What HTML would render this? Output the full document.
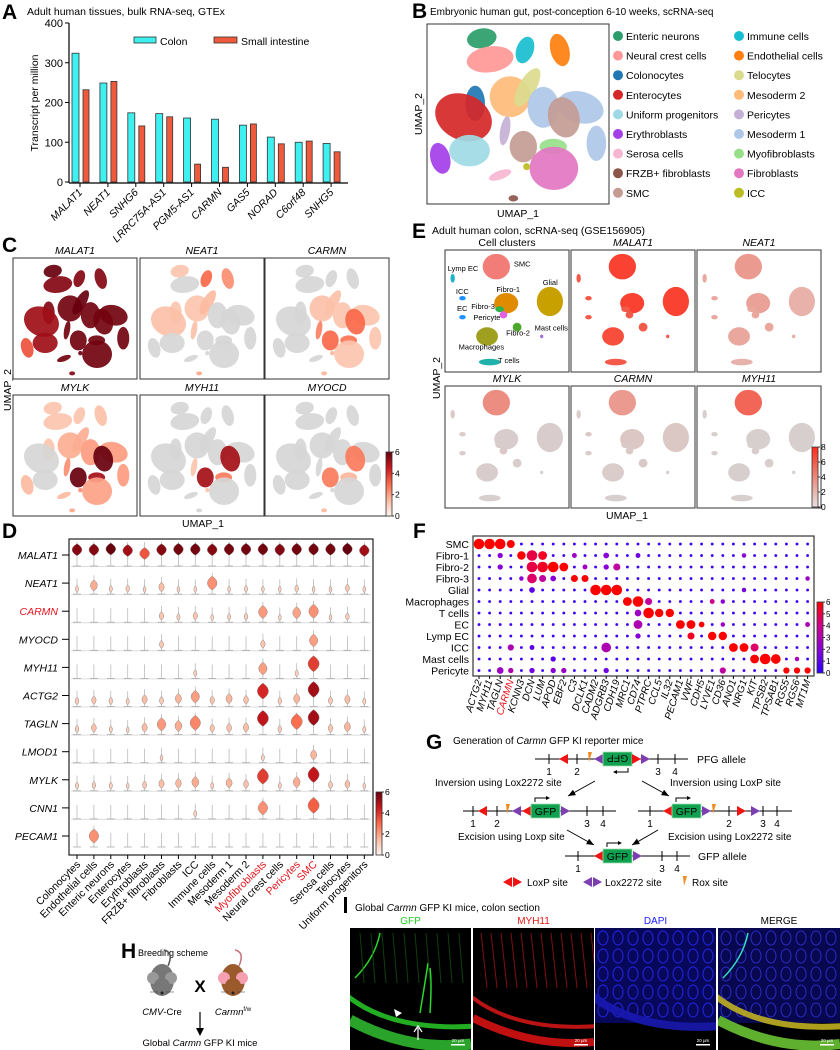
<!DOCTYPE html>
<html><head><meta charset="utf-8">
<style>
html,body{margin:0;padding:0;background:#fff;}
svg{display:block;font-family:"Liberation Sans",Arial,sans-serif;}
</style></head>
<body>
<svg id="fig" width="840" height="1050" viewBox="0 0 840 1050" xmlns="http://www.w3.org/2000/svg">
<rect x="0" y="0" width="840" height="1050" fill="#fff"/>
</svg>
<script>
// ---------- Panel A data ----------
const genesA = ['MALAT1','NEAT1','SNHG6','LRRC75A-AS1','PGM5-AS1','CARMN','GAS5','NORAD','C6orf48','SNHG5'];
const colonTPM = [324,249,174,172,161,158,143,113,100,97];
const smallIntTPM = [232,253,141,164,45,37,146,96,103,76];
const ticksA = [0,100,200,300,400];
// ---------- Panel D data ----------
const cellTypesD = ['Colonocytes','Endothelial cells','Enteric neurons','Enterocytes','Erythroblasts','FRZB+ fibroblasts','Fibroblasts','ICC','Immune cells','Mesoderm 1','Mesoderm 2','Myofibroblasts','Neural crest cells','Pericytes','SMC','Serosa cells','Telocytes','Uniform progenitors'];
const genesD = ['MALAT1','NEAT1','CARMN','MYOCD','MYH11','ACTG2','TAGLN','LMOD1','MYLK','CNN1','PECAM1'];
const exprMALAT1 = [5.5,5.5,6,5,3,5.5,5.8,5.8,5.5,5.8,5.8,5.8,5.5,5.8,5.8,5.8,6,5];
const exprNEAT1 = [0.3,1.2,0.3,0.4,0.2,0.8,0.2,0.2,1.8,0.2,0.3,0.2,0.2,0.4,0.2,0.2,0.5,0.2];
const exprCARMN = [0,0.1,0,0,0,0.6,0.3,0.6,0.2,0.3,0.4,1.6,0.2,1.4,1.8,0.2,0.4,0.1];
const exprMYOCD = [0,0,0,0,0,0.5,0,0,0,0.1,0,0.6,0,0,1.5,0,0,0];
const exprMYH11 = [0,0,0,0,0,0,0,0.3,0,0,0,1.5,0,0.3,3.5,0,0,0];
const exprACTG2 = [0.4,0.6,0.4,0.3,0.8,0.5,1.0,1.5,0.6,1.0,0.7,4,0.4,1.0,5,0.5,0.8,0.3];
const exprTAGLN = [0.4,0.7,0.3,0.2,0.8,1.6,1.2,2,0.6,0.7,0.8,4.5,0.4,2.5,5,0.6,1,0.3];
const exprLMOD1 = [0,0,0,0,0,0.2,0,0,0,0,0,0.3,0,0,1,0,0,0];
const exprMYLK = [0.3,0.4,0.3,0.2,0.5,0.8,0.9,1.2,0.3,1,0.7,3.5,0.3,1.2,4.5,0.5,0.7,0.2];
const exprCNN1 = [0,0,0,0,0,0.1,0,0.3,0,0,0,1.8,0,0,2.8,0,0,0];
const exprPECAM1 = [0,1.8,0,0,0,0,0,0,0,0,0,0,0,0,0,0,0,0];
const ticksD = [0,2,4,6];
// ---------- Panel F data ----------
const clustersF = ['SMC','Fibro-1','Fibro-2','Fibro-3','Glial','Macrophages','T cells','EC','Lymp EC','ICC','Mast cells','Pericyte'];
const genesF = ['ACTG2','MYH11','TAGLN','CARMN','KCNN3','DCN','LUM','APOD','EBF2','C3','DCLK1','CADM2','ADGRB3','CDH19','MRC1','CD74','PTPRC','CCL5','IL32','PECAM1','VWF','CDH5','LYVE1','CD36','ANO1','NRG1','KIT','TPSB2','TPSAB1','RGS5','RGS6','MT1M'];
const dotRow = [0,0,0,0,1,1,1,1,1,1,1,1,2,2,2,2,2,2,2,2,3,3,3,3,3,3,3,4,4,4,4,4,5,5,5,5,5,6,6,6,6,7,7,7,7,7,7,8,8,8,8,9,9,9,9,9,9,10,10,10,10,10,11,11,11,11,11,11,11,11,11,11];
const dotCol = [0,1,2,3,2,4,5,6,9,12,15,25,2,5,6,7,8,10,12,13,4,5,6,7,9,10,31,5,11,12,13,25,14,15,16,22,23,15,16,17,18,15,19,20,21,23,31,15,20,22,23,3,5,12,24,25,26,7,26,27,28,30,2,3,5,7,8,12,23,29,30,31];
const dotExpr = [6,6,6,6,2,6,5,5.5,2.5,2,1.5,2,2,5,5.5,6,6,2.5,2,3.5,2,4.5,3.5,2,6,6,2.5,1,6,6,6,1.5,6,6,3.5,4,2,2.5,6,6,6,3,6,6,6,2.5,3,2,5.5,6,6,3,1,3,6,6,4.5,1,6,6,6,3,2.5,3,1.5,2,2.5,1.5,3.5,6,6,6];
const dotPct = [1,1,1,0.7,0.4,0.75,1,0.8,0.35,0.45,0.35,0.3,0.4,1,1,1,0.8,0.35,0.4,0.6,0.3,0.9,0.6,0.45,0.6,0.6,0.3,0.45,1,1,1,0.3,0.8,1,0.6,0.35,0.3,0.55,1,0.75,0.75,0.8,0.8,0.8,0.45,0.3,0.35,0.4,0.6,0.75,0.75,0.5,0.35,0.9,0.8,0.8,0.7,0.4,0.8,1,0.9,0.3,0.55,0.4,0.4,0.4,0.4,0.4,0.5,0.5,0.5,0.5];
const ticksF = [0,1,2,3,4,5,6];
// ---------- Panel C / E data ----------
const genesC = ['MALAT1','NEAT1','CARMN','MYLK','MYH11','MYOCD'];
const clustersE = ['SMC','Lymp EC','ICC','EC','Fibro-1','Fibro-3','Pericyte','Fibro-2','Glial','Mast cells','Macrophages','T cells'];
const genesE = ['MALAT1','NEAT1','MYLK','CARMN','MYH11'];
const eMALAT1 = [7,6,6,6,7,6,6,6,7,6,6.5,6];
const eNEAT1 = [3.5,3,3,3,3.2,3,3,3,2.6,3,3,2.5];
const eMYLK = [4,0.8,0.6,0.5,0.5,0.6,0.8,0.5,0.5,0.3,0.5,0.4];
const eCARMN = [3.5,0.6,1,0.6,1,0.8,0.8,0.8,0.9,0.4,0.6,0.4];
const eMYH11 = [5.5,0.4,0.4,0.4,0.4,0.4,0.6,0.4,0.4,0.3,0.4,0.4];
const ticksE = [0,2,4,6,8];

const NS='http://www.w3.org/2000/svg';
const svg=document.getElementById('fig');
function mk(tag,attrs,parent){const e=document.createElementNS(NS,tag);for(const k in attrs)e.setAttribute(k,attrs[k]);(parent||svg).appendChild(e);return e;}
function txt(x,y,s,attrs,parent){const a=Object.assign({x:x,y:y,'font-size':10,fill:'#000'},attrs||{});const t=mk('text',a,parent);t.textContent=s;return t;}
function lerpC(c1,c2,t){const a=parseInt(c1.slice(1),16),b=parseInt(c2.slice(1),16);const r=Math.round(((a>>16)&255)*(1-t)+((b>>16)&255)*t),g=Math.round(((a>>8)&255)*(1-t)+((b>>8)&255)*t),bl=Math.round((a&255)*(1-t)+(b&255)*t);return 'rgb('+r+','+g+','+bl+')';}
function ramp(stops,t){t=Math.max(0,Math.min(1,t));const n=stops.length-1;const i=Math.min(n-1,Math.floor(t*n));return lerpC(stops[i],stops[i+1],t*n-i);}
const REDS=['#fff5f0','#fcbba1','#fb6a4a','#cb181d','#67000d'];
function panelLetter(x,y,s){const t=txt(x,y,s,{'font-size':21,'font-weight':'bold'});

return t;}

// =============== PANEL A ===============
(function(){
const g=mk('g',{});


panelLetter(2,19,'A');
txt(27,15,'Adult human tissues, bulk RNA-seq, GTEx',{'font-size':10.5},g);
const x0=69,xEnd=348,yb=182,yt=23;
const ys=v=>yb-(v/400)*(yb-yt);
mk('line',{x1:x0,y1:yt,x2:x0,y2:yb+1,stroke:'#000','stroke-width':1.2},g);
mk('line',{x1:x0,y1:yb+1,x2:xEnd,y2:yb+1,stroke:'#000','stroke-width':1.2},g);
ticksA.forEach(v=>{mk('line',{x1:x0-4,y1:ys(v),x2:x0,y2:ys(v),stroke:'#000'},g);txt(x0-6,ys(v)+4,String(v),{'font-size':11,'text-anchor':'end'},g);});
const yt2=txt(0,0,'Transcript per million',{'font-size':10.5,'text-anchor':'middle',transform:'translate(38,103) rotate(-90)'},g);

const step=27.9;
genesA.forEach((gn,i)=>{
 const xc=72+i*step;
 const b1=mk('rect',{x:xc,y:ys(colonTPM[i]),width:7,height:yb-ys(colonTPM[i]),fill:'#3ff0f0',stroke:'#333','stroke-width':0.8},g);
 
 
 const b2=mk('rect',{x:xc+11,y:ys(smallIntTPM[i]),width:6,height:yb-ys(smallIntTPM[i]),fill:'#f05a3c',stroke:'#333','stroke-width':0.8},g);
 
 
 const tx=xc+8;
 mk('line',{x1:tx,y1:yb+1,x2:tx,y2:yb+5,stroke:'#000'},g);
 const l=txt(0,0,gn,{'font-size':10.5,'font-style':'italic','text-anchor':'end',transform:'translate('+(tx+3)+','+(yb+11)+') rotate(-45)'},g);
 
});
const lg1=mk('rect',{x:134,y:37,width:22,height:6,fill:'#3ff0f0',stroke:'#333','stroke-width':0.8},g);

txt(160,45,'Colon',{'font-size':10.5},g);
const lg2=mk('rect',{x:214,y:37,width:23,height:6,fill:'#f05a3c',stroke:'#333','stroke-width':0.8},g);

txt(241,45,'Small intestine',{'font-size':10.5},g);
})();

// =============== UMAP cluster geometry (B/C) ===============
const bShapes=[[215,115,38,25,2,-10],[240,178,60,33,12,-8],[345,150,22,35,8,20],[450,150,24,42,1,-15],[195,310,25,45,0,0],[160,352,75,58,3,25],[178,452,52,40,17,0],[90,475,25,40,4,-15],[270,525,30,11,15,-20],[310,595,14,9,5,0],[300,290,52,52,10,0],[352,262,22,55,16,30],[400,322,40,52,9,0],[512,322,60,40,9,15],[560,430,25,45,9,0],[285,392,14,42,13,10],[340,440,35,40,14,0],[462,352,40,52,14,-15],[430,440,35,20,11,0],[432,505,62,55,6,0],[350,500,10,10,7,0]];
const typeColorB=['#1f77b4','#ff7f0e','#2a9d6a','#d62728','#a33ee8','#8c564b','#e377c2','#bcbd22','#17becf','#aec7e8','#ffbb78','#98df8a','#ff9896','#c5b0d5','#c49c94','#f7b6d2','#dbdb8d','#9edae5'];
function drawUMAP(g,bx,by,bw,bh,colorFn){
 bShapes.forEach(s=>{
  const k=s[2]>20?1.18:1.05;
  const cx=bx+(s[0]-50)/548*bw, cy=by+(s[1]-72)/540*bh, rx=s[2]/548*bw*k, ry=s[3]/540*bh*k;
  const c=colorFn(s[4]);
  const e=mk('ellipse',{cx:cx,cy:cy,rx:rx,ry:ry,fill:c,'fill-opacity':0.92,transform:'rotate('+s[5]+','+cx+','+cy+')'},g);
  
  
 });
}

// =============== PANEL B ===============
(function(){
const g=mk('g',{});


panelLetter(412,18,'B');
txt(430,15,'Embryonic human gut, post-conception 6-10 weeks, scRNA-seq',{'font-size':10},g);
mk('rect',{x:427,y:24,width:182,height:180,fill:'#fff',stroke:'#333','stroke-width':1},g);
drawUMAP(g,427,24,182,180,t=>typeColorB[t]);
txt(518,217,'UMAP_1',{'font-size':10.5,'text-anchor':'middle'},g);
txt(0,0,'UMAP_2',{'font-size':10.5,'text-anchor':'middle',transform:'translate(422,114) rotate(-90)'},g);
const col1=['Enteric neurons','Neural crest cells','Colonocytes','Enterocytes','Uniform progenitors','Erythroblasts','Serosa cells','FRZB+ fibroblasts','SMC'];
const col2=['Immune cells','Endothelial cells','Telocytes','Mesoderm 2','Pericytes','Mesoderm 1','Myofibroblasts','Fibroblasts','ICC'];
[col1,col2].forEach((col,ci)=>{col.forEach((nm,i)=>{
 const idx=cellTypesD.indexOf(nm);
 const cx=ci?739:618, cy=36+i*19.6;
 const d=mk('circle',{cx:cx,cy:cy,r:5,fill:typeColorB[idx]},g);
 
 
 txt(cx+8,cy+4,nm,{'font-size':10.5},g);
});});
})();

// =============== PANEL C ===============
(function(){
const g=mk('g',{});


panelLetter(2,252,'C');
const exprByGene={MALAT1:exprMALAT1,NEAT1:exprNEAT1,CARMN:exprCARMN,MYLK:exprMYLK,MYH11:exprMYH11,MYOCD:exprMYOCD};
const xs=[13,140,265], ys=[258,395], w=124, h=121;
genesC.forEach((gn,i)=>{
 const x=xs[i%3], y=ys[Math.floor(i/3)];
 txt(x+w/2,y-4,gn,{'font-size':10.5,'font-style':'italic','text-anchor':'middle'},g);
 const fr=mk('rect',{x:x,y:y,width:w,height:h,fill:'#fff',stroke:'#333','stroke-width':1},g);
 
 const arr=exprByGene[gn];
 drawUMAP(g,x+6,y+4,w-12,h-6,t=>{const L=arr[t]*(gn==='MALAT1'?1:1.4);return L<0.35?'#d6d6d6':ramp(REDS,0.15+L/6*0.85);});
});
txt(203,527,'UMAP_1',{'font-size':10.5,'text-anchor':'middle'},g);
txt(0,0,'UMAP_2',{'font-size':10.5,'text-anchor':'middle',transform:'translate(11,390) rotate(-90)'},g);
const grad=mk('linearGradient',{id:'gradC',x1:0,y1:1,x2:0,y2:0},mk('defs',{},g));
REDS.forEach((c,i)=>mk('stop',{offset:i/4,'stop-color':c},grad));
const cb=mk('rect',{x:386,y:452,width:6,height:64,fill:'url(#gradC)',stroke:'#333','stroke-width':0.8},g);

[0,2,4,6].forEach(v=>{const yy=516-v/6*64;mk('line',{x1:392,y1:yy,x2:394,y2:yy,stroke:'#333'},g);txt(395,yy+3,String(v),{'font-size':8.5},g);});
})();

// =============== PANEL E ===============
(function(){
const g=mk('g',{});


panelLetter(412,238,'E');
txt(432,234,'Adult human colon, scRNA-seq (GSE156905)',{'font-size':10.5},g);
const eShapes=[[912,200,25,35],[832,235,4,12],[850,295,6,6],[850,352,6,6],[930,310,22,28],[918,328,8,8],[925,345,7,10],[950,382,8,12],[1010,305,24,40],[995,410,3,5],[895,410,20,25],[900,487,20,9]];
const eColors=['#f27c78','#1fb5c8','#1e90ff','#1e90ff','#e08a00','#2db34a','#e060e0','#4aa82a','#c8a000','#9a6fe0','#a0a020','#20b2aa'];
const eExpr={MALAT1:eMALAT1,NEAT1:eNEAT1,MYLK:eMYLK,CARMN:eCARMN,MYH11:eMYH11};
const xs=[445,571,697], ys=[250,386], w=124, h=122;
const panels=['Cell clusters'].concat(genesE);
panels.forEach((nm,i)=>{
 const x=xs[i%3], y=ys[Math.floor(i/3)];
 txt(x+w/2,y-4,nm,{'font-size':10.5,'font-style':i?'italic':'normal','text-anchor':'middle'},g);
 const fr=mk('rect',{x:x,y:y,width:w,height:h,fill:'#fff',stroke:'#333','stroke-width':1},g);
 
 eShapes.forEach((s,k)=>{
  const cx=x+(s[0]-818)/227*w, cy=y+(s[1]-150)/367*h, rx=s[2]/227*w, ry=s[3]/367*h*1.1;
  const c=i?ramp(['#d4d4d4','#e8b0a8','#f06a5a','#ff2a1a'],eExpr[nm][k]/8):eColors[k];
  const e=mk('ellipse',{cx:cx,cy:cy,rx:rx,ry:ry,fill:c},g);
  
 });
 if(!i){
  const lab=[['SMC',944,200],['Lymp EC',823,213],['ICC',838,282],['EC',840,333],['Fibro-1',912,277],['Fibro-3',866,328],['Pericyte',870,360],['Fibro-2',930,407],['Glial',997,256],['Mast cells',982,392],['Macrophages',843,450],['T cells',915,490]];
  lab.forEach(l=>txt(x+(l[1]-818)/227*w,y+(l[2]-150)/367*h,l[0],{'font-size':7.5},g));
 }
});
txt(627,519,'UMAP_1',{'font-size':10.5,'text-anchor':'middle'},g);
txt(0,0,'UMAP_2',{'font-size':10.5,'text-anchor':'middle',transform:'translate(440,378) rotate(-90)'},g);
const grad=mk('linearGradient',{id:'gradE',x1:0,y1:1,x2:0,y2:0},mk('defs',{},g));
['#e8e0e0','#e8a89e','#f06a5a','#ff2a1a'].forEach((c,i)=>mk('stop',{offset:i/3,'stop-color':c},grad));
const cb=mk('rect',{x:812,y:447,width:6,height:60,fill:'url(#gradE)',stroke:'#333','stroke-width':0.8},g);

ticksE.forEach(v=>{const yy=507-v/8*60;mk('line',{x1:818,y1:yy,x2:820,y2:yy,stroke:'#333'},g);txt(821,yy+3,String(v),{'font-size':8.5},g);});
})();

// =============== PANEL D ===============
(function(){
const g=mk('g',{});


panelLetter(2,538,'D');
const bx=69,by=539,bw=304,bh=316;
const exprByGene=[exprMALAT1,exprNEAT1,exprCARMN,exprMYOCD,exprMYH11,exprACTG2,exprTAGLN,exprLMOD1,exprMYLK,exprCNN1,exprPECAM1];
const rowH=28.1, colW=16.9;
mk('rect',{x:bx,y:by,width:bw,height:bh,fill:'#fff',stroke:'#222','stroke-width':1.2},g);
genesD.forEach((gn,r)=>{
 const yc=555+r*rowH, ybase=yc+11;
 const l=txt(58,yc+4,gn,{'font-size':10.5,'font-style':'italic','text-anchor':'end',fill:gn==='CARMN'?'#e8141c':'#000'},g);
 
 mk('line',{x1:62,y1:yc,x2:bx,y2:yc,stroke:'#000'},g);
 if(r<genesD.length-1) mk('line',{x1:bx+2,y1:ybase+0.5,x2:bx+bw-2,y2:ybase+0.5,stroke:'#ddd','stroke-width':1},g);
 exprByGene[r].forEach((L,c)=>{
  const cx=77+c*colW;
  mk('line',{x1:cx,y1:ybase,x2:cx,y2:ybase-(r===0?24:14+Math.min(L,2)*4),stroke:'#bbb','stroke-width':0.8},g);
  mk('line',{x1:cx-4,y1:ybase,x2:cx+4,y2:ybase,stroke:'#aaa','stroke-width':0.8},g);
  if(L>=0.15){
   const w=r===0?7:1.5+6.5*Math.min(1,L/2.2), hh=r===0?6:3+5*Math.min(1,L/2.2);
   const cy=r===0?yc-6+(6-L)*1.5:ybase-hh-1-Math.min(L,5)*1.6;
   const v=mk('path',{d:'M'+cx+','+(cy-hh)+' Q'+(cx+w*1.4)+','+cy+' '+cx+','+(cy+hh)+' Q'+(cx-w*1.4)+','+cy+' '+cx+','+(cy-hh)+'Z',fill:ramp(REDS,0.12+L/6*0.88),stroke:'#888','stroke-width':0.5},g);
   
   
  }
 });
});
cellTypesD.forEach((ct,c)=>{
 const cx=77+c*colW;
 mk('line',{x1:cx,y1:by+bh,x2:cx,y2:by+bh+4,stroke:'#000'},g);
 const red=['Myofibroblasts','Pericytes','SMC'].includes(ct);
 const l=txt(0,0,ct,{'font-size':10.5,'text-anchor':'end',fill:red?'#e8141c':'#000',transform:'translate('+(cx+4)+','+(by+bh+10)+') rotate(-45)'},g);
 
});
const grad=mk('linearGradient',{id:'gradD',x1:0,y1:1,x2:0,y2:0},mk('defs',{},g));
REDS.forEach((c,i)=>mk('stop',{offset:i/4,'stop-color':c},grad));
const cb=mk('rect',{x:376,y:792,width:6,height:63,fill:'url(#gradD)',stroke:'#333','stroke-width':0.8},g);

ticksD.forEach(v=>{const yy=855-v/6*63;mk('line',{x1:382,y1:yy,x2:384,y2:yy,stroke:'#333'},g);txt(385,yy+3,String(v),{'font-size':8.5},g);});
})();

// =============== PANEL F ===============
(function(){
const g=mk('g',{});


panelLetter(413,538,'F');
const bx=473,by=536,bw=341,bh=140;
mk('rect',{x:bx,y:by,width:bw,height:bh,fill:'#fff',stroke:'#333','stroke-width':1.2},g);
const xOf=j=>479+j*10.6, yOf=i=>544+i*11.5;
const col=v=>ramp(['#2a00ff','#8a00d8','#d0008a','#ff0000'],v/6);
const big={};
dotRow.forEach((r,k)=>{big[r+'_'+dotCol[k]]=k;});
clustersF.forEach((cl,i)=>{
 const l=txt(469,yOf(i)+4,cl,{'font-size':10.5,'text-anchor':'end'},g);
 
 genesF.forEach((gn,j)=>{
  const k=big[i+'_'+j];
  let v=0.4,p=0.12;
  if(k!==undefined){v=dotExpr[k];p=dotPct[k];}
  const d=mk('circle',{cx:xOf(j),cy:yOf(i),r:0.9+p*4.4,fill:col(v)},g);
  
  
 });
});
genesF.forEach((gn,j)=>{
 mk('line',{x1:xOf(j),y1:by+bh,x2:xOf(j),y2:by+bh+3,stroke:'#000'},g);
 const l=txt(0,0,gn,{'font-size':10,'font-style':'italic','text-anchor':'end',fill:gn==='CARMN'?'#e8141c':'#000',transform:'translate('+(xOf(j)+3)+','+(by+bh+5)+') rotate(-72)'},g);
 
});
const grad=mk('linearGradient',{id:'gradF',x1:0,y1:1,x2:0,y2:0},mk('defs',{},g));
['#2a00ff','#8a00d8','#d0008a','#ff0000'].forEach((c,i)=>mk('stop',{offset:i/3,'stop-color':c},grad));
const cb=mk('rect',{x:817,y:602,width:6,height:71,fill:'url(#gradF)',stroke:'#333','stroke-width':0.8},g);

ticksF.forEach(v=>{const yy=673-v/6*71;mk('line',{x1:823,y1:yy,x2:825,y2:yy,stroke:'#333'},g);txt(826,yy+3,String(v),{'font-size':8},g);});
})();

// =============== PANEL G ===============
(function(){
const g=mk('g',{});


panelLetter(426,749,'G');
const t=txt(453,744,'Generation of ',{'font-size':10},g);
const ts=mk('tspan',{'font-style':'italic'},t);ts.textContent='Carmn';
const ts2=mk('tspan',{},t);ts2.textContent=' GFP KI reporter mice';
function tri(x,y,dir,color){const s=dir>0?'M'+x+','+(y-5)+' L'+(x+9)+','+y+' L'+x+','+(y+5)+'Z':'M'+(x+9)+','+(y-5)+' L'+x+','+y+' L'+(x+9)+','+(y+5)+'Z';return mk('path',{d:s,fill:color},g);}
function rox(x,y){return mk('path',{d:'M'+x+','+(y-7)+' L'+(x+4)+','+(y-7)+' L'+(x+1)+','+(y+3)+'Z',fill:'#f08a24'},g);}
function tick(x,y,n){mk('line',{x1:x,y1:y-5,x2:x,y2:y+5,stroke:'#000'},g);if(n)txt(x,y+16,n,{'font-size':10,'text-anchor':'middle'},g);}
function gfp(x,y,flip){const r=mk('rect',{x:x,y:y-7,width:29,height:14,fill:'#0fa050',stroke:'#9ee0b0','stroke-width':0.8},g);
 txt(0,0,'GFP',{'font-size':10.5,'text-anchor':'middle',transform:'translate('+(x+14.5)+','+(y+4)+')'+(flip?' scale(-1,-1) translate(0,8)':'')},g);
 if(flip){mk('path',{d:'M'+(x+25)+','+(y+9)+' V'+(y+13)+' H'+(x+14),fill:'none',stroke:'#000'},g);mk('path',{d:'M'+(x+14)+','+(y+11)+' L'+(x+10)+','+(y+13)+' L'+(x+14)+','+(y+15)+'Z'},g);}
 else{mk('path',{d:'M'+(x+4)+','+(y-9)+' V'+(y-13)+' H'+(x+15),fill:'none',stroke:'#000'},g);mk('path',{d:'M'+(x+15)+','+(y-15)+' L'+(x+19)+','+(y-13)+' L'+(x+15)+','+(y-11)+'Z'},g);}}
let y=759;mk('line',{x1:535,y1:y,x2:688,y2:y,stroke:'#000'},g);
tick(549,y,'1');tri(559,y,-1,'#f01414');tick(577,y,'2');rox(588,y);tri(594,y,-1,'#7d3fb0');gfp(603,y,true);tri(632,y,1,'#f01414');tri(641,y,1,'#7d3fb0');tick(658,y,'3');tick(675,y,'4');
txt(697,763,'PFG allele',{'font-size':10.5},g);
txt(435,786,'Inversion using Lox2272 site',{'font-size':10},g);
txt(670,786,'Inversion using LoxP site',{'font-size':10},g);
function arrow(x1,y1,x2,y2){mk('line',{x1:x1,y1:y1,x2:x2,y2:y2,stroke:'#000','stroke-width':1},g);const a=Math.atan2(y2-y1,x2-x1);const p=(d,s)=>[x2-8*Math.cos(a+s*0.4),y2-8*Math.sin(a+s*0.4)];const p1=p(8,1),p2=p(8,-1);mk('path',{d:'M'+x2+','+y2+' L'+p1+' L'+p2+'Z'},g);}
arrow(595,781,568,796);arrow(642,781,669,796);
y=811;mk('line',{x1:463,y1:y,x2:616,y2:y,stroke:'#000'},g);
tick(473,y,'1');tri(478,y,-1,'#f01414');tick(497,y,'2');rox(506,y);tri(512,y,-1,'#7d3fb0');tri(522,y,-1,'#f01414');gfp(531,y,false);tri(561,y,1,'#7d3fb0');tick(587,y,'3');tick(603,y,'4');
mk('line',{x1:638,y1:y,x2:792,y2:y,stroke:'#000'},g);
tick(650,y,'1');tri(663,y,-1,'#f01414');gfp(672,y,false);tri(702,y,1,'#7d3fb0');rox(712,y);tick(729,y,'2');tri(737,y,1,'#f01414');tri(751,y,1,'#7d3fb0');tick(763,y,'3');tick(777,y,'4');
txt(458,840,'Excision using Loxp site',{'font-size':10},g);
txt(668,840,'Excision using Lox2272 site',{'font-size':10},g);
arrow(567,830,594,845);arrow(658,830,632,845);
y=856;mk('line',{x1:565,y1:y,x2:690,y2:y,stroke:'#000'},g);
tick(578,y,'1');tri(594,y,-1,'#f01414');gfp(603,y,false);tri(633,y,1,'#7d3fb0');tick(662,y,'3');tick(677,y,'4');
txt(698,860,'GFP allele',{'font-size':10.5},g);
tri(503,882,-1,'#f01414');tri(513,882,1,'#f01414');txt(527,886,'LoxP site',{'font-size':10},g);
tri(583,882,-1,'#7d3fb0');tri(593,882,1,'#7d3fb0');txt(605,886,'Lox2272 site',{'font-size':10},g);
rox(683,883);txt(692,886,'Rox site',{'font-size':10},g);
})();

// =============== PANEL H ===============
(function(){
const g=mk('g',{});


panelLetter(121,958,'H');
txt(138,956,'Breeding scheme',{'font-size':9},g);
function mouse(cx,cy,body,ear){
 const m=mk('g',{},g);
 mk('path',{d:'M'+(cx+6)+','+(cy-14)+' q6,-14 -4,-16',fill:'none',stroke:body==='#777'?'#555':'#c8707a','stroke-width':1.5},m);
 mk('ellipse',{cx:cx,cy:cy,rx:12,ry:16,fill:body},m);
 mk('circle',{cx:cx-9,cy:cy-2,r:6,fill:ear},m);mk('circle',{cx:cx+9,cy:cy-2,r:6,fill:ear},m);
 mk('ellipse',{cx:cx,cy:cy+6,rx:8,ry:8,fill:body},m);
 mk('circle',{cx:cx,cy:cy+13,r:1.5,fill:'#222'},m);
 mk('path',{d:'M'+(cx-12)+','+(cy+12)+' h8 M'+(cx+4)+','+(cy+12)+' h8',stroke:'#333','stroke-width':0.6},m);
 return m;}
const m1=mouse(162,980,'#777','#999');

const m2=mouse(233,980,'#9a5a2c','#f4a0b0');

txt(200,992,'X',{'font-size':17,'font-weight':'bold','text-anchor':'middle'},g);
const t1=txt(162,1015,'',{'font-size':9.5,'text-anchor':'middle'},g);
const a1=mk('tspan',{'font-style':'italic'},t1);a1.textContent='CMV';const a2=mk('tspan',{},t1);a2.textContent='-Cre';
const t2=txt(233,1015,'',{'font-size':9.5,'text-anchor':'middle'},g);
const b1=mk('tspan',{'font-style':'italic'},t2);b1.textContent='Carmn';const b2=mk('tspan',{'font-size':6,dy:-4},t2);b2.textContent='f/w';
mk('line',{x1:200,y1:1012,x2:200,y2:1030,stroke:'#000','stroke-width':1.2},g);
mk('path',{d:'M196,1028 L200,1036 L204,1028Z'},g);
const t3=txt(200,1046,'Global ',{'font-size':9.5,'text-anchor':'middle'},g);
const c1=mk('tspan',{'font-style':'italic'},t3);c1.textContent='Carmn';const c2=mk('tspan',{},t3);c2.textContent=' GFP KI mice';
})();

// =============== PANEL I ===============
(function(){
const g=mk('g',{});


const lb=mk('rect',{x:344,y:897,width:3,height:16,fill:'#000'},g);

const t=txt(355,911,'Global ',{'font-size':10},g);
const s1=mk('tspan',{'font-style':'italic'},t);s1.textContent='Carmn';const s2=mk('tspan',{},t);s2.textContent=' GFP KI mice, colon section';
const chans=[['GFP','#22cc22',350],['MYH11','#e81818',473],['DAPI','#1a1aff',595],['MERGE','#000',718]];
chans.forEach((c,i)=>{
 const x=c[2], w=i===3?122:121, y=928, h=122;
 txt(x+w/2,924,c[0],{'font-size':10,'text-anchor':'middle',fill:c[1]},g);
 const r=mk('rect',{x:x,y:y,width:w,height:h,fill:'#000'},g);
 
 
 const clip=mk('clipPath',{id:'clipI'+i},mk('defs',{},g));mk('rect',{x:x,y:y,width:w,height:h},clip);
 const gg=mk('g',{'clip-path':'url(#clipI'+i+')'},g);
 const band=(col,wd,op)=>{mk('path',{d:'M'+(x-5)+','+(y+66)+' Q'+(x+40)+','+(y+104)+' '+(x+w+5)+','+(y+98),fill:'none',stroke:col,'stroke-width':wd,'stroke-opacity':op},gg);};
 if(i===0){band('#2ad82a',5,0.8);mk('path',{d:'M'+x+','+(y+92)+' Q'+(x+60)+','+(y+124)+' '+(x+w)+','+(y+116),fill:'none',stroke:'#30c030','stroke-width':11,'stroke-opacity':0.85},gg);
  mk('path',{d:'M'+(x+70)+','+(y+85)+' q5,-30 8,-50 M'+(x+80)+','+(y+85)+' q2,-30 0,-45 M'+(x+5)+','+(y+50)+' q20,-20 25,-45',fill:'none',stroke:'#2ad82a','stroke-width':1.5},gg);
  for(let k=0;k<10;k++)mk('line',{x1:x+10+k*11,y1:y+5,x2:x+14+k*11,y2:y+55,stroke:'#145a14','stroke-width':1,'stroke-opacity':0.7},gg);}
 if(i===1){band('#e81818',4,0.8);mk('path',{d:'M'+x+','+(y+90)+' Q'+(x+60)+','+(y+120)+' '+(x+w)+','+(y+114),fill:'none',stroke:'#c01010','stroke-width':8},gg);
  for(let k=0;k<12;k++)mk('line',{x1:x+8+k*10,y1:y+5,x2:x+14+k*10,y2:y+60,stroke:'#801010','stroke-width':1},gg);}
 if(i===2){mk('rect',{x:x,y:y,width:w,height:95,fill:'#08085a'},gg);
  for(let k=0;k<8;k++)for(let m=0;m<5;m++)mk('ellipse',{cx:x+8+k*15,cy:y+10+m*18,rx:5,ry:7,fill:'none',stroke:'#2020d0','stroke-width':1.2},gg);
  band('#1818b0',8,0.9);}
 if(i===3){mk('rect',{x:x,y:y,width:w,height:95,fill:'#080850'},gg);
  for(let k=0;k<8;k++)for(let m=0;m<5;m++)mk('ellipse',{cx:x+8+k*15,cy:y+10+m*18,rx:5,ry:7,fill:'none',stroke:'#2a2ac0','stroke-width':1},gg);
  band('#c0b020',6,0.9);mk('path',{d:'M'+x+','+(y+92)+' Q'+(x+60)+','+(y+124)+' '+(x+w)+','+(y+116),fill:'none',stroke:'#60b030','stroke-width':10},gg);
  mk('path',{d:'M'+(x+5)+','+(y+50)+' q20,-20 25,-45',fill:'none',stroke:'#30e0c0','stroke-width':1.5},gg);}
 mk('rect',{x:x+w-20,y:y+h-6,width:14,height:1.5,fill:'#fff'},gg);txt(x+w-13,y+h-8,'20 µm',{'font-size':4.5,fill:'#fff','text-anchor':'middle'},gg);
});
mk('path',{d:'M402,1013 l-8,-4 l2,8Z',fill:'#fff'},g);
mk('path',{d:'M418,1040 v-12 M414,1032 l4,-6 l4,6',fill:'none',stroke:'#fff','stroke-width':1.2},g);
})();
</script>
</body></html>
